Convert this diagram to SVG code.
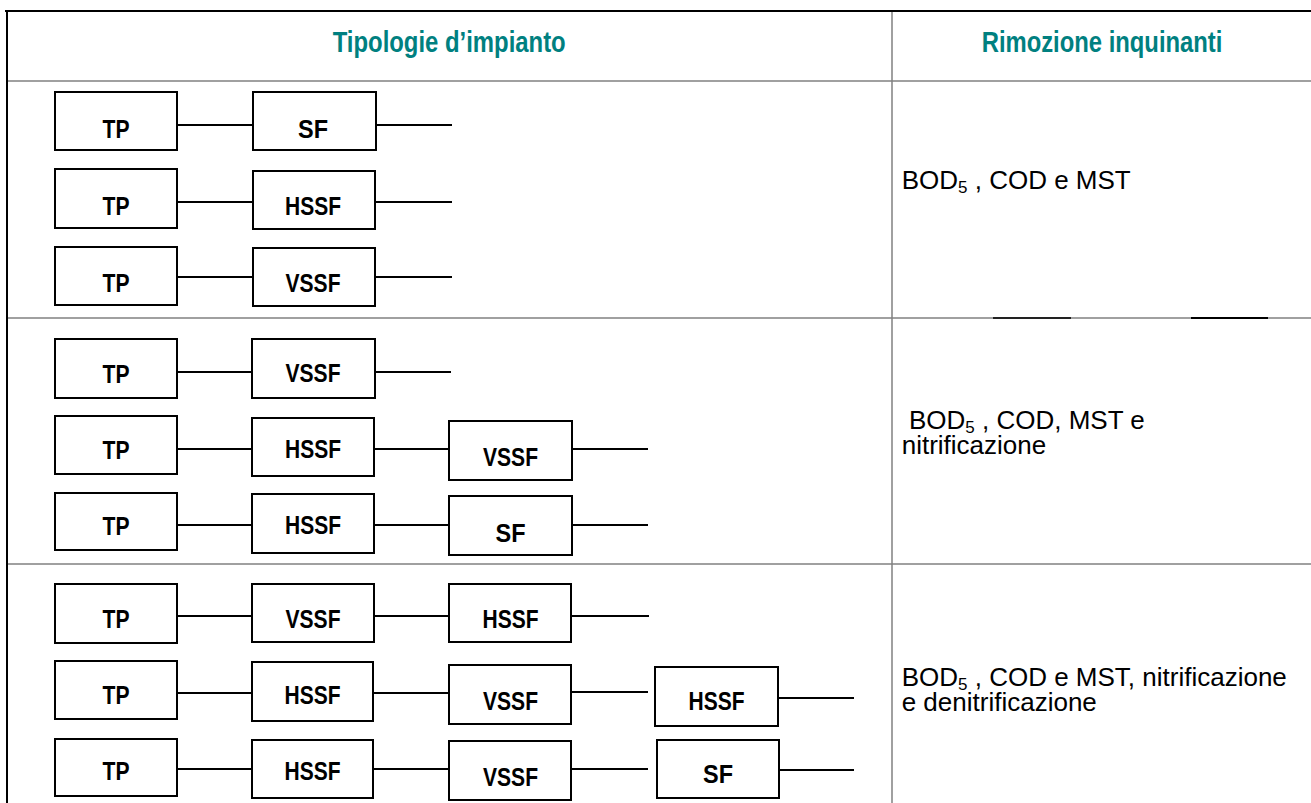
<svg xmlns="http://www.w3.org/2000/svg" width="1311" height="803" viewBox="0 0 1311 803">
<style>
.box{fill:#fff;stroke:#000;stroke-width:2}
.lbl{font-family:"Liberation Sans Narrow","Liberation Sans",Arial,sans-serif;font-weight:bold;font-size:25px;fill:#000;text-anchor:middle}
.hdr{font-family:"Liberation Sans Narrow","Liberation Sans",Arial,sans-serif;font-weight:bold;font-size:29px;fill:#008080}
.txt{font-family:"Liberation Sans",Arial,sans-serif;font-size:26px;fill:#000}
.sub{font-size:17px}
.grid{stroke:#808080;stroke-width:1.5;fill:none}
.border{stroke:#000;stroke-width:2;fill:none}
.conn line{stroke:#000;stroke-width:1.8}
</style>
<rect x="0" y="0" width="1311" height="803" fill="#fff"/>
<g id="table">
<line class="grid" x1="7" y1="81" x2="1311" y2="81"/>
<line class="grid" x1="7" y1="318" x2="1311" y2="318"/>
<line class="grid" x1="7" y1="564" x2="1311" y2="564"/>
<line class="grid" x1="892" y1="11" x2="892" y2="803"/>
<line class="border" x1="5" y1="11" x2="1311" y2="11"/>
<line class="border" x1="7" y1="11" x2="7" y2="803"/>
<line x1="993" y1="318" x2="1071" y2="318" stroke="#222" stroke-width="2"/>
<line x1="1191" y1="318" x2="1268" y2="318" stroke="#000" stroke-width="2"/>
<text class="hdr" x="332.7" y="52" textLength="233" lengthAdjust="spacingAndGlyphs">Tipologie d’impianto</text>
<text class="hdr" x="981.7" y="52" textLength="240.7" lengthAdjust="spacingAndGlyphs">Rimozione inquinanti</text>
<text class="txt" x="901.7" y="189">BOD<tspan class="sub" dy="4">5</tspan><tspan dy="-4"> , COD e MST</tspan></text>
<text class="txt" x="909" y="429">BOD<tspan class="sub" dy="4">5</tspan><tspan dy="-4"> , COD, MST e</tspan></text>
<text class="txt" x="901.7" y="454">nitrificazione</text>
<text class="txt" x="901.7" y="685.7">BOD<tspan class="sub" dy="4">5</tspan><tspan dy="-4"> , COD e MST, nitrificazione</tspan></text>
<text class="txt" x="901.7" y="710.5">e denitrificazione</text>
</g>
<g id="connectors" class="conn">
<line x1="177" y1="125" x2="253" y2="125"/><line x1="376" y1="125" x2="452" y2="125"/>
<line x1="177" y1="202" x2="253" y2="202"/><line x1="375" y1="202" x2="452" y2="202"/>
<line x1="177" y1="277" x2="253" y2="277"/><line x1="375" y1="277" x2="452" y2="277"/>
<line x1="177" y1="372" x2="252" y2="372"/><line x1="375" y1="372" x2="451" y2="372"/>
<line x1="177" y1="449" x2="252" y2="449"/><line x1="374" y1="449" x2="449" y2="449"/><line x1="572" y1="449" x2="648" y2="449"/>
<line x1="177" y1="525" x2="252" y2="525"/><line x1="374" y1="525" x2="449" y2="525"/><line x1="572" y1="525" x2="648" y2="525"/>
<line x1="177" y1="616" x2="252" y2="616"/><line x1="374" y1="616" x2="449" y2="616"/><line x1="572" y1="616" x2="649" y2="616"/>
<line x1="177" y1="693" x2="252" y2="693"/><line x1="373" y1="693" x2="449" y2="693"/><line x1="571" y1="692" x2="648" y2="692"/><line x1="778" y1="698" x2="854" y2="698"/>
<line x1="177" y1="769" x2="252" y2="769"/><line x1="373" y1="769" x2="449" y2="769"/><line x1="572" y1="769" x2="648" y2="769"/><line x1="779" y1="770" x2="854" y2="770"/>
</g>
<g id="s1r1tp"><rect class="box" x="55" y="92" width="122" height="58"/><text class="lbl" x="116" y="138" textLength="27" lengthAdjust="spacingAndGlyphs">TP</text></g>
<g id="s1r1sf"><rect class="box" x="253" y="92" width="123" height="58"/><text class="lbl" x="313" y="138" textLength="30" lengthAdjust="spacingAndGlyphs">SF</text></g>
<g id="s1r2tp"><rect class="box" x="55" y="169" width="122" height="59"/><text class="lbl" x="116" y="215" textLength="27" lengthAdjust="spacingAndGlyphs">TP</text></g>
<g id="s1r2hssf"><rect class="box" x="253" y="171" width="122" height="58"/><text class="lbl" x="313" y="215" textLength="56" lengthAdjust="spacingAndGlyphs">HSSF</text></g>
<g id="s1r3tp"><rect class="box" x="55" y="247" width="122" height="58"/><text class="lbl" x="116" y="292" textLength="27" lengthAdjust="spacingAndGlyphs">TP</text></g>
<g id="s1r3vssf"><rect class="box" x="253" y="248" width="122" height="58"/><text class="lbl" x="313" y="292" textLength="55" lengthAdjust="spacingAndGlyphs">VSSF</text></g>
<g id="s2r1tp"><rect class="box" x="55" y="339" width="122" height="59"/><text class="lbl" x="116" y="383" textLength="27" lengthAdjust="spacingAndGlyphs">TP</text></g>
<g id="s2r1vssf"><rect class="box" x="252" y="339" width="123" height="59"/><text class="lbl" x="313" y="382" textLength="55" lengthAdjust="spacingAndGlyphs">VSSF</text></g>
<g id="s2r2tp"><rect class="box" x="55" y="416" width="122" height="58"/><text class="lbl" x="116" y="459" textLength="27" lengthAdjust="spacingAndGlyphs">TP</text></g>
<g id="s2r2hssf"><rect class="box" x="252" y="418" width="122" height="58"/><text class="lbl" x="313" y="458" textLength="56" lengthAdjust="spacingAndGlyphs">HSSF</text></g>
<g id="s2r2vssf"><rect class="box" x="449" y="421" width="123" height="59"/><text class="lbl" x="510.5" y="466" textLength="55" lengthAdjust="spacingAndGlyphs">VSSF</text></g>
<g id="s2r3tp"><rect class="box" x="55" y="493" width="122" height="57"/><text class="lbl" x="116" y="535" textLength="27" lengthAdjust="spacingAndGlyphs">TP</text></g>
<g id="s2r3hssf"><rect class="box" x="252" y="494" width="122" height="59"/><text class="lbl" x="313" y="534" textLength="56" lengthAdjust="spacingAndGlyphs">HSSF</text></g>
<g id="s2r3sf"><rect class="box" x="449" y="496" width="123" height="59"/><text class="lbl" x="510.5" y="542" textLength="30" lengthAdjust="spacingAndGlyphs">SF</text></g>
<g id="s3r1tp"><rect class="box" x="55" y="584" width="122" height="59"/><text class="lbl" x="116" y="628" textLength="27" lengthAdjust="spacingAndGlyphs">TP</text></g>
<g id="s3r1vssf"><rect class="box" x="252" y="584" width="122" height="58"/><text class="lbl" x="313" y="628" textLength="55" lengthAdjust="spacingAndGlyphs">VSSF</text></g>
<g id="s3r1hssf"><rect class="box" x="449" y="584" width="122" height="58"/><text class="lbl" x="510.5" y="628" textLength="56" lengthAdjust="spacingAndGlyphs">HSSF</text></g>
<g id="s3r2tp"><rect class="box" x="55" y="661" width="122" height="58"/><text class="lbl" x="116" y="704" textLength="27" lengthAdjust="spacingAndGlyphs">TP</text></g>
<g id="s3r2hssf"><rect class="box" x="252" y="662" width="121" height="59"/><text class="lbl" x="312.5" y="704" textLength="56" lengthAdjust="spacingAndGlyphs">HSSF</text></g>
<g id="s3r2vssf"><rect class="box" x="449" y="665" width="122" height="59"/><text class="lbl" x="510.5" y="710" textLength="55" lengthAdjust="spacingAndGlyphs">VSSF</text></g>
<g id="s3r2hssf2"><rect class="box" x="655" y="667" width="123" height="59"/><text class="lbl" x="716.5" y="710" textLength="56" lengthAdjust="spacingAndGlyphs">HSSF</text></g>
<g id="s3r3tp"><rect class="box" x="55" y="739" width="122" height="57"/><text class="lbl" x="116" y="780" textLength="27" lengthAdjust="spacingAndGlyphs">TP</text></g>
<g id="s3r3hssf"><rect class="box" x="252" y="740" width="121" height="58"/><text class="lbl" x="312.5" y="780" textLength="56" lengthAdjust="spacingAndGlyphs">HSSF</text></g>
<g id="s3r3vssf"><rect class="box" x="449" y="741" width="122" height="59"/><text class="lbl" x="510.5" y="786" textLength="55" lengthAdjust="spacingAndGlyphs">VSSF</text></g>
<g id="s3r3sf"><rect class="box" x="657" y="740" width="122" height="58"/><text class="lbl" x="718" y="783" textLength="30" lengthAdjust="spacingAndGlyphs">SF</text></g>
</svg>
